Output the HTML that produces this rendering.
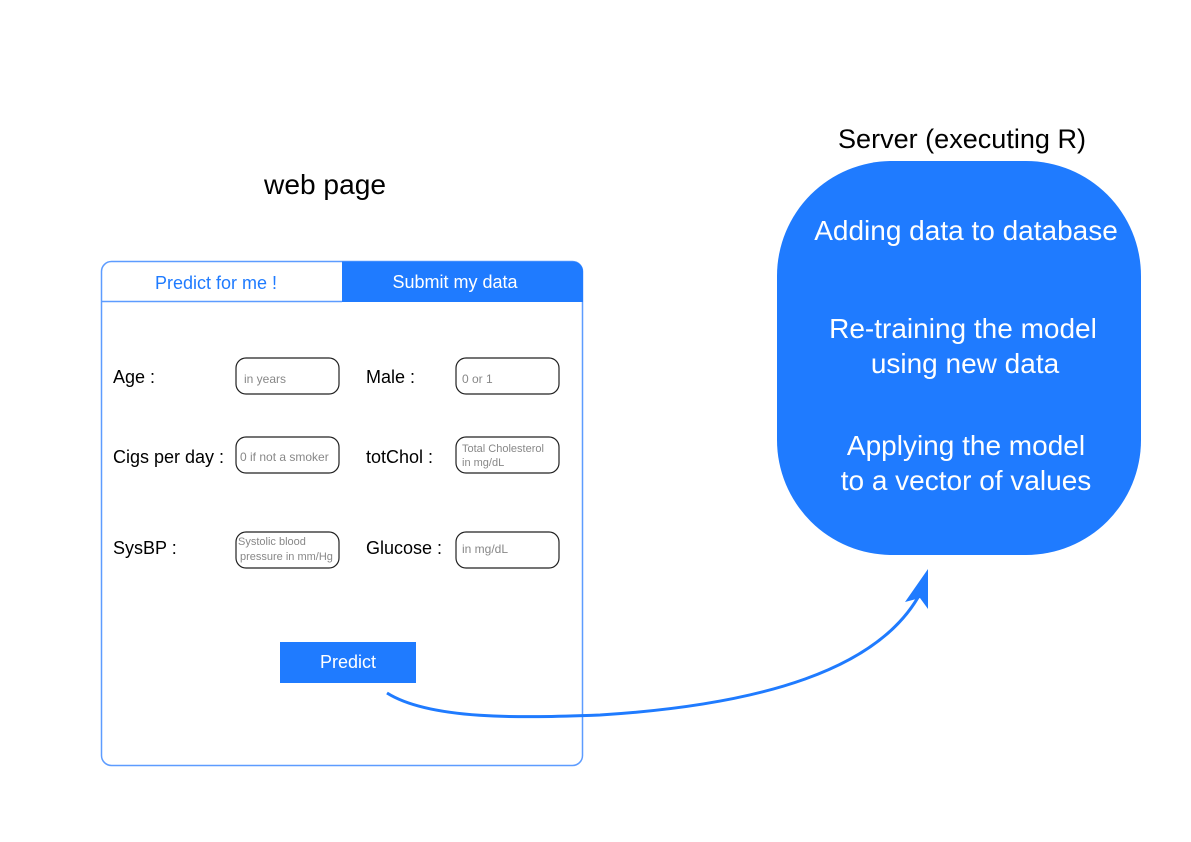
<!DOCTYPE html>
<html><head><meta charset="utf-8"><style>
html,body{margin:0;padding:0;background:#fff;}
svg{display:block;font-family:"Liberation Sans",sans-serif;}
</style></head><body>
<svg width="1191" height="842" viewBox="0 0 1191 842" xmlns="http://www.w3.org/2000/svg">
<rect width="1191" height="842" fill="#fff"/>
<text x="325" y="194" font-size="28" text-anchor="middle" fill="#000" textLength="122" lengthAdjust="spacingAndGlyphs">web page</text>
<text x="962" y="148" font-size="27" text-anchor="middle" fill="#000" textLength="248" lengthAdjust="spacingAndGlyphs">Server (executing R)</text>
<!-- card -->
<rect x="101.5" y="261.5" width="481" height="504" rx="10" fill="#fff" stroke="#5d9cff" stroke-width="1.5"/>
<path d="M342 261.5 H573 A10 10 0 0 1 583 271.5 V302 H342 Z" fill="#1f7bff"/>
<line x1="101" y1="301.5" x2="342" y2="301.5" stroke="#5d9cff" stroke-width="1.5"/>
<text x="216" y="289" font-size="18" text-anchor="middle" fill="#1f7bff">Predict for me !</text>
<text x="455" y="288" font-size="18" text-anchor="middle" fill="#fff">Submit my data</text>
<g font-size="18" fill="#000">
<text x="113" y="383">Age :</text>
<text x="366" y="383">Male :</text>
<text x="113" y="463">Cigs per day :</text>
<text x="366" y="463">totChol :</text>
<text x="113" y="554">SysBP :</text>
<text x="366" y="554">Glucose :</text>
</g>
<g fill="#fff" stroke="#222" stroke-width="1.2">
<rect x="236" y="358" width="103" height="36" rx="10"/>
<rect x="456" y="358" width="103" height="36" rx="10"/>
<rect x="236" y="437" width="103" height="36" rx="10"/>
<rect x="456" y="437" width="103" height="36" rx="10"/>
<rect x="236" y="532" width="103" height="36" rx="10"/>
<rect x="456" y="532" width="103" height="36" rx="10"/>
</g>
<g font-size="12" fill="#888">
<text x="244" y="383">in years</text>
<text x="462" y="383">0 or 1</text>
<text x="240" y="461">0 if not a smoker</text>
<text x="462" y="452" font-size="11">Total Cholesterol</text>
<text x="462" y="466" font-size="11">in mg/dL</text>
<text x="238" y="545" font-size="11">Systolic blood</text>
<text x="240" y="560" font-size="11">pressure in mm/Hg</text>
<text x="462" y="553">in mg/dL</text>
</g>
<rect x="280" y="642" width="136" height="41" fill="#1f7bff"/>
<text x="348" y="668" font-size="18" text-anchor="middle" fill="#fff">Predict</text>
<!-- server -->
<rect x="777" y="161" width="364" height="394" rx="115" fill="#1f7bff"/>
<g font-size="28" fill="#fff" text-anchor="middle">
<text x="966" y="240">Adding data to database</text>
<text x="963" y="338">Re-training the model</text>
<text x="965" y="373">using new data</text>
<text x="966" y="455">Applying the model</text>
<text x="966" y="490">to a vector of values</text>
</g>
<!-- arrow -->
<path d="M387 693 C430 720 520 718 600 715 C760 705 880 670 921 592" fill="none" stroke="#1f7bff" stroke-width="3"/>
<path d="M928 569 L928 609 L920 598 L905 602 Z" fill="#1f7bff"/>
</svg>
</body></html>
